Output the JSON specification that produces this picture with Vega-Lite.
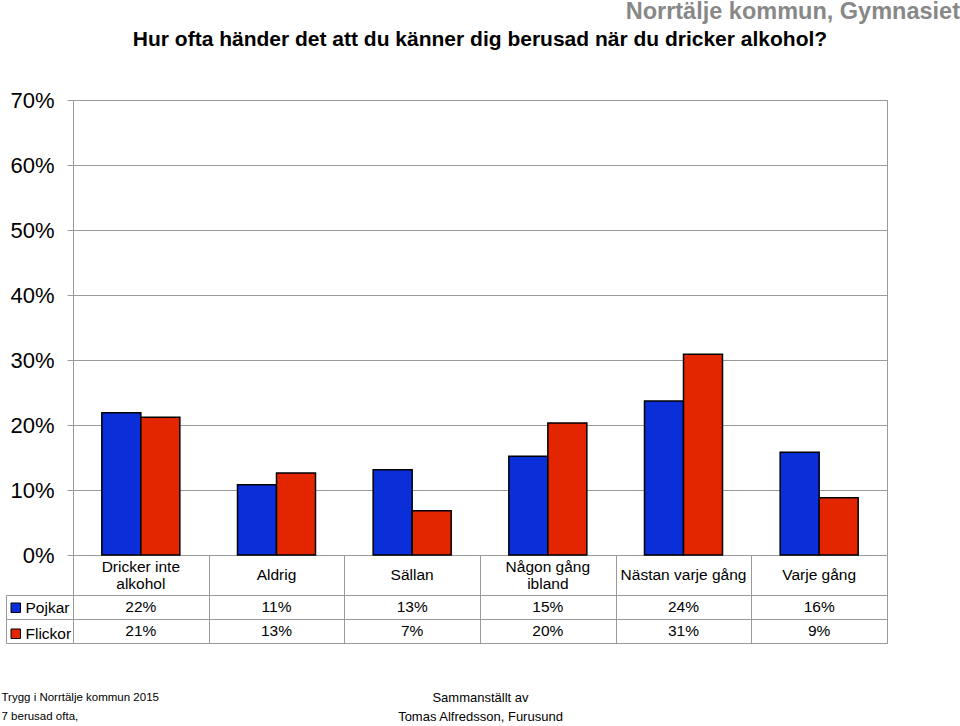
{
  "$schema": "https://vega.github.io/schema/vega-lite/v6.json",
  "padding": {"left": 0, "top": 0, "right": 2, "bottom": 2},
  "bounds": "flush",
  "spacing": 40,
  "title": {"text": "Norrtälje kommun, Gymnasiet", "anchor": "end", "frame": "bounds", "font": "Liberation Sans", "fontSize": 23.5, "fontWeight": "bold", "color": "#888888", "dx": 72, "offset": 5},
  "config": {
    "font": "Liberation Sans",
    "view": {"stroke": "#9a9a9a", "strokeWidth": 1},
    "axis": {"labelFont": "Liberation Sans", "titleFont": "Liberation Sans", "labelColor": "#000", "titleColor": "#000"},
    "legend": {"labelFont": "Liberation Sans"}
  },
  "data": {"values": [
    {"svar": "Dricker inte alkohol", "kon": "Pojkar", "andel": 0.219},
    {"svar": "Dricker inte alkohol", "kon": "Flickor", "andel": 0.212},
    {"svar": "Aldrig", "kon": "Pojkar", "andel": 0.108},
    {"svar": "Aldrig", "kon": "Flickor", "andel": 0.126},
    {"svar": "Sällan", "kon": "Pojkar", "andel": 0.131},
    {"svar": "Sällan", "kon": "Flickor", "andel": 0.068},
    {"svar": "Någon gång ibland", "kon": "Pojkar", "andel": 0.152},
    {"svar": "Någon gång ibland", "kon": "Flickor", "andel": 0.203},
    {"svar": "Nästan varje gång", "kon": "Pojkar", "andel": 0.237},
    {"svar": "Nästan varje gång", "kon": "Flickor", "andel": 0.309},
    {"svar": "Varje gång", "kon": "Pojkar", "andel": 0.158},
    {"svar": "Varje gång", "kon": "Flickor", "andel": 0.088}
  ]},
  "vconcat": [
    {
      "width": 814,
      "height": 455,
      "title": {"text": "Hur ofta händer det att du känner dig berusad när du dricker alkohol?", "font": "Liberation Sans", "fontSize": 21, "fontWeight": "bold", "color": "#000", "anchor": "middle", "offset": 39},
      "mark": {"type": "bar", "stroke": "#000", "strokeWidth": 1.5},
      "encoding": {
        "x": {"field": "svar", "type": "nominal", "sort": null,
          "scale": {"paddingInner": 0.425, "paddingOuter": 0.2125},
          "axis": {"title": null, "ticks": false, "domain": false, "labelAngle": 0, "labelFontSize": 15.5, "labelBaseline": "top",
            "labelPadding": {"condition": {"test": "datum.value == 'Dricker inte alkohol' || datum.value == 'Någon gång ibland'", "value": 4}, "value": 12},
            "labelLineHeight": 17,
            "labelExpr": "datum.label == 'Dricker inte alkohol' ? ['Dricker inte', 'alkohol'] : datum.label == 'Någon gång ibland' ? ['Någon gång', 'ibland'] : datum.label"}},
        "xOffset": {"field": "kon", "type": "nominal", "sort": ["Pojkar", "Flickor"]},
        "y": {"field": "andel", "type": "quantitative", "scale": {"domain": [0, 0.7]},
          "axis": {"title": null, "format": ".0%", "values": [0, 0.1, 0.2, 0.3, 0.4, 0.5, 0.6, 0.7], "labelFontSize": 22, "labelPadding": 13, "tickSize": 6, "tickColor": "#9a9a9a", "gridColor": "#9a9a9a", "domain": false}},
        "color": {"field": "kon", "type": "nominal", "sort": ["Pojkar", "Flickor"],
          "scale": {"range": ["#0a2fd9", "#e32600"]},
          "legend": {"orient": "none", "legendX": -65, "legendY": 500, "title": null, "symbolType": "square", "symbolSize": 90, "symbolStrokeColor": "#000", "symbolStrokeWidth": 1, "labelFontSize": 15.5, "labelColor": "#000", "labelOffset": 2, "rowPadding": 9, "padding": 0}}
      }
    },
    {
      "width": 814,
      "height": 48,
      "mark": {"type": "text", "fontSize": 15.5, "color": "#000", "font": "Liberation Sans"},
      "encoding": {
        "x": {"field": "svar", "type": "nominal", "sort": null,
          "scale": {"paddingInner": 0, "paddingOuter": 0},
          "axis": {"title": ["Sammanställt av", "Tomas Alfredsson, Furusund"], "titleFontSize": 13, "titleFontWeight": "normal", "titleLineHeight": 19, "titlePadding": 48, "labels": false, "ticks": true, "tickSize": -88, "tickBand": "extent", "tickColor": "#9a9a9a", "domain": false, "grid": false}},
        "y": {"field": "kon", "type": "nominal", "sort": ["Pojkar", "Flickor"],
          "scale": {"paddingInner": 0, "paddingOuter": 0},
          "axis": {"title": ["Trygg i Norrtälje kommun 2015", "7 berusad ofta,"], "titleAngle": 0, "titleAlign": "left", "titleBaseline": "top", "titleX": -5, "titleY": 96, "titleFontSize": 11.5, "titleFontWeight": "normal", "titleLineHeight": 19, "labels": false, "offset": 67, "tickSize": -881, "tickBand": "extent", "tickColor": "#9a9a9a", "domainColor": "#9a9a9a", "grid": false}},
        "text": {"field": "andel", "type": "quantitative", "format": ".0%"}
      }
    }
  ],
  "resolve": {"legend": {"color": "independent"}, "scale": {"x": "independent", "color": "independent"}}
}
